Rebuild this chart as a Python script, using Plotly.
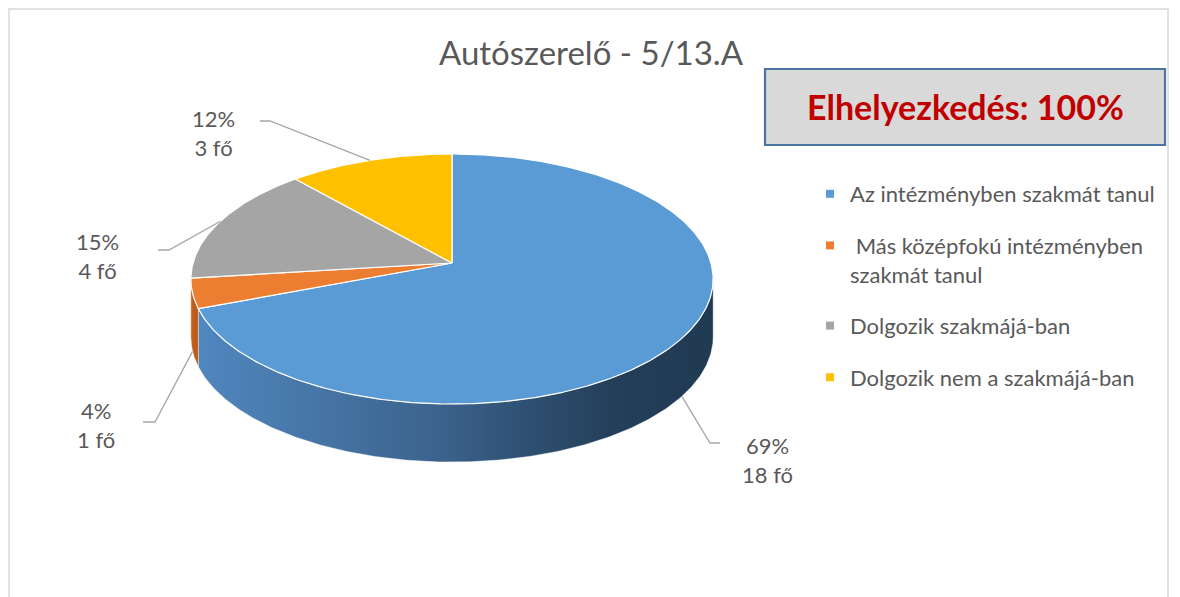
import numpy as np
import plotly.graph_objects as go

# ---------------- data ----------------
title_text = "Autószerelő - 5/13.A"
badge_text = "Elhelyezkedés: 100%"
categories = [
    "Az intézményben szakmát tanul",
    "\u00a0Más középfokú intézményben<br>szakmát tanul",
    "Dolgozik szakmájá-ban",
    "Dolgozik nem a szakmájá-ban",
]
counts = [18, 1, 4, 3]
unit = "fő"

# ---------------- styles ----------------
top_colors = ["#5B9BD5", "#ED7D31", "#A5A5A5", "#FFC000"]
side_scales = [
    [[0, "#5087bf"], [0.45, "#3c648e"], [0.8, "#243f5a"], [1, "#213a52"]],
    [[0, "#c9621d"], [1, "#b5571a"]],
    [[0, "#888888"], [1, "#777777"]],
    [[0, "#d9a300"], [1, "#c89400"]],
]
FONT = "Lato, 'Open Sans', sans-serif"
TXT = "#595959"

# ---------------- geometry (layout constants, page pixels) ----------------
PAGE_W, PAGE_H = 1180, 597
OFF = 8                      # default body margin of the html page
CX, CY = 452, 263            # pie centre (apex of slices)
RA, RB, K = 259, 123, 0.128  # perspective ellipse parameters
DEPTH = 58
label_pos = [(767, 460), (96, 425), (97, 256), (213, 133)]
leader_elbow = [(710, 443), (155, 422), (169, 250), (270, 121)]
leader_end = [(720, 443), (143, 422), (158, 250), (260, 121)]


def proj(theta_deg):
    t = np.radians(theta_deg)
    u = np.sin(t)
    v = -np.cos(t)
    d = 1 - K * v
    return CX + RA * u / d, CY + RB * v / d


def arc(a0, a1, step=0.5):
    n = max(int(abs(a1 - a0) / step), 2) + 1
    return np.linspace(a0, a1, n)


total = sum(counts)
fracs = [c / total for c in counts]
bounds = np.concatenate([[0], np.cumsum(fracs) * 360])
vis_lo = np.degrees(np.arccos(-K))
vis_hi = 360 - vis_lo

fig = go.Figure()

# sides
for i in range(len(counts)):
    a0, a1 = max(bounds[i], vis_lo), min(bounds[i + 1], vis_hi)
    if a1 <= a0:
        continue
    th = arc(a0, a1)
    xt, yt = proj(th)
    xs = np.concatenate([xt, xt[::-1], xt[:1]])
    ys = np.concatenate([yt, (yt + DEPTH)[::-1], yt[:1]])
    fig.add_trace(go.Scatter(
        x=xs, y=ys, mode="lines", fill="toself",
        line=dict(color="rgba(255,255,255,0.5)", width=0.8),
        fillgradient=dict(type="horizontal", colorscale=side_scales[i]),
        hoverinfo="skip", showlegend=False))

# top faces
for i in range(len(counts)):
    th = arc(bounds[i], bounds[i + 1])
    xt, yt = proj(th)
    xs = np.concatenate([[CX], xt, [CX]])
    ys = np.concatenate([[CY], yt, [CY]])
    fig.add_trace(go.Scatter(
        x=xs, y=ys, mode="lines", fill="toself", fillcolor=top_colors[i],
        line=dict(color="white", width=1.2),
        name=categories[i], hoverinfo="name", showlegend=False))

# leader lines + labels
annotations = []
for i in range(len(counts)):
    mid = (bounds[i] + bounds[i + 1]) / 2
    ax, ay = proj(mid)
    if vis_lo <= mid <= vis_hi:
        ay = ay + DEPTH
    ex, ey = leader_elbow[i]
    fx, fy = leader_end[i]
    fig.add_trace(go.Scatter(
        x=[float(ax), ex, fx], y=[float(ay), ey, fy], mode="lines",
        line=dict(color="#a6a6a6", width=1.3),
        hoverinfo="skip", showlegend=False))
    pct = round(100 * counts[i] / total)
    lx, ly = label_pos[i]
    annotations.append(dict(
        x=lx, y=ly, xref="x", yref="y", showarrow=False,
        text=f"{pct}%<br>{counts[i]} {unit}",
        font=dict(family=FONT, size=22, color=TXT),
        xanchor="center", yanchor="middle", align="center"))

# legend entries
for i in range(len(counts)):
    fig.add_trace(go.Scatter(
        x=[None], y=[None], mode="markers", name=categories[i],
        marker=dict(symbol="square", size=8, color=top_colors[i]),
        legendgroup=f"g{i}", showlegend=True))

# title
annotations.append(dict(
    x=591, y=52, xref="x", yref="y", showarrow=False, text=title_text,
    font=dict(family=FONT, size=33, color=TXT),
    xanchor="center", yanchor="middle"))
# badge text
annotations.append(dict(
    x=965, y=106, xref="x", yref="y", showarrow=False,
    text=f"<b>{badge_text}</b>",
    font=dict(family=FONT, size=34, color="#C00000"),
    xanchor="center", yanchor="middle"))

shapes = [
    dict(type="rect", xref="x", yref="y", x0=9, y0=9, x1=1168, y1=650,
         line=dict(color="#d9d9d9", width=1.5), fillcolor="rgba(0,0,0,0)",
         layer="below"),
    dict(type="rect", xref="x", yref="y", x0=765, y0=69, x1=1165, y1=145,
         line=dict(color="#4a75a3", width=2.2), fillcolor="#d9d9d9",
         layer="below"),
]

fig_w, fig_h = PAGE_W - OFF, PAGE_H - OFF
fig.update_layout(
    width=fig_w, height=fig_h,
    margin=dict(l=0, r=0, t=0, b=0),
    paper_bgcolor="white", plot_bgcolor="white",
    xaxis=dict(range=[OFF, PAGE_W], visible=False, fixedrange=True),
    yaxis=dict(range=[PAGE_H, OFF], visible=False, fixedrange=True),
    annotations=annotations,
    shapes=shapes,
    showlegend=True,
    legend=dict(
        x=(810 - OFF) / fig_w, y=1 - (173 - OFF) / fig_h,
        xanchor="left", yanchor="top",
        font=dict(family=FONT, size=22, color=TXT),
        tracegroupgap=20, valign="top", bgcolor="rgba(0,0,0,0)",
        traceorder="grouped"),
)

fig.write_html("out.html")
